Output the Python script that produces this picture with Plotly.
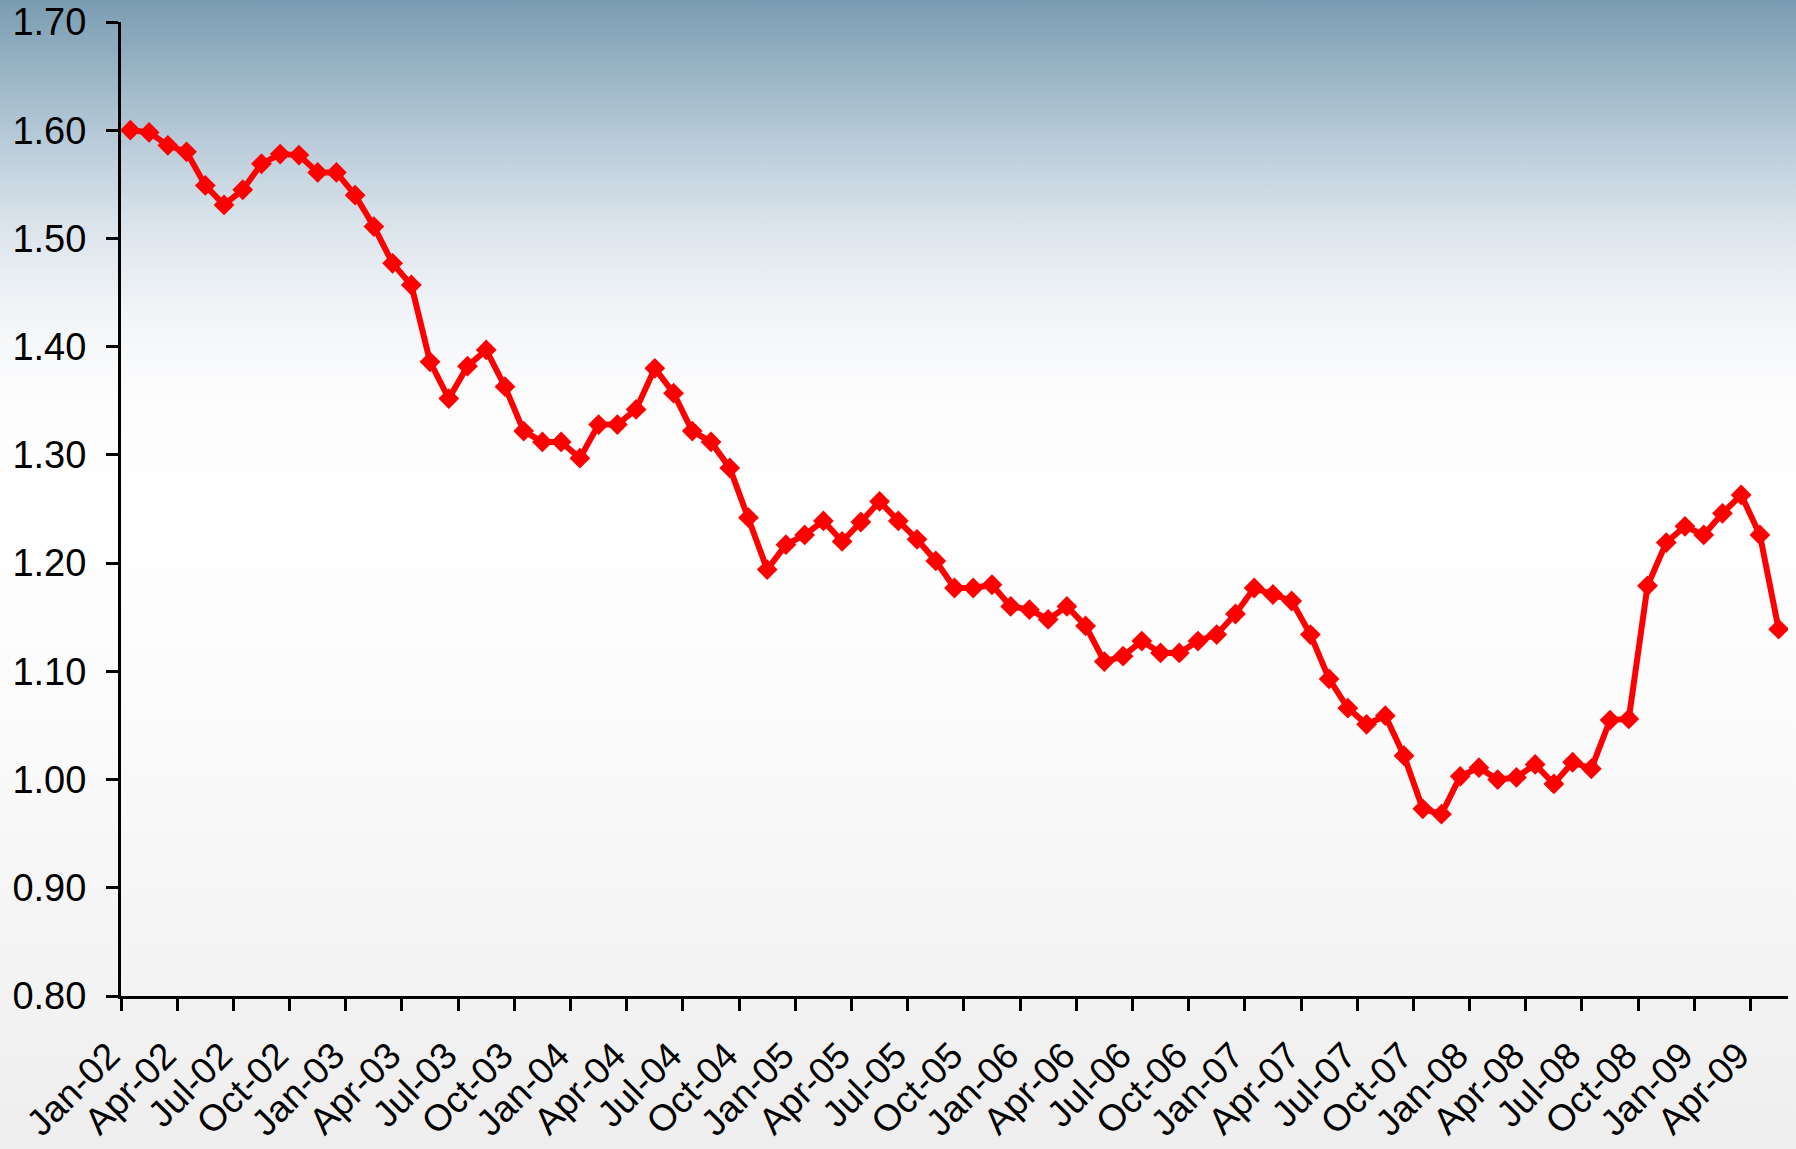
import base64
import plotly.graph_objects as go

# ---- data -------------------------------------------------------------
months = [f"{m}-{y:02d}" for y in range(2, 10) for m in
          ["Jan", "Feb", "Mar", "Apr", "May", "Jun", "Jul", "Aug", "Sep", "Oct", "Nov", "Dec"]][:89]

values = [
    1.600, 1.598, 1.586, 1.580, 1.549, 1.531, 1.545, 1.569, 1.578, 1.577, 1.561, 1.561,  # 2002
    1.540, 1.511, 1.477, 1.457, 1.386, 1.352, 1.382, 1.397, 1.363, 1.322, 1.312, 1.312,  # 2003
    1.297, 1.328, 1.328, 1.342, 1.380, 1.357, 1.322, 1.312, 1.288, 1.242, 1.194, 1.217,  # 2004
    1.226, 1.239, 1.220, 1.238, 1.257, 1.239, 1.222, 1.202, 1.177, 1.177, 1.180, 1.160,  # 2005
    1.157, 1.148, 1.160, 1.142, 1.109, 1.114, 1.128, 1.117, 1.117, 1.128, 1.134, 1.153,  # 2006
    1.177, 1.171, 1.165, 1.134, 1.093, 1.066, 1.051, 1.059, 1.022, 0.973, 0.968, 1.003,  # 2007
    1.011, 1.000, 1.002, 1.014, 0.996, 1.016, 1.010, 1.055, 1.056, 1.179, 1.219, 1.234,  # 2008
    1.226, 1.246, 1.263, 1.226, 1.139,                                                    # 2009
]

tick_labels = [
    "Jan-02", "Apr-02", "Jul-02", "Oct-02",
    "Jan-03", "Apr-03", "Jul-03", "Oct-03",
    "Jan-04", "Apr-04", "Jul-04", "Oct-04",
    "Jan-05", "Apr-05", "Jul-05", "Oct-05",
    "Jan-06", "Apr-06", "Jul-06", "Oct-06",
    "Jan-07", "Apr-07", "Jul-07", "Oct-07",
    "Jan-08", "Apr-08", "Jul-08", "Oct-08",
    "Jan-09", "Apr-09",
]

y_min, y_max, y_step = 0.80, 1.70, 0.10

# ---- layout geometry --------------------------------------------------
W, H = 1796, 1149
ML, MR, MT, MB = 121, 8, 22, 153
PW, PH = W - ML - MR, H - MT - MB

idx = list(range(len(values)))
tick_pos = [3 * k - 0.5 for k in range(len(tick_labels))]

# background gradient as svg
svg = f"""<svg xmlns='http://www.w3.org/2000/svg' width='{W}' height='{H}' preserveAspectRatio='none'>
<defs><linearGradient id='g' x1='0' y1='0' x2='0' y2='1'>
<stop offset='0' stop-color='#7a9cb2'/>
<stop offset='0.06' stop-color='#98b3c4'/>
<stop offset='0.13' stop-color='#bccedb'/>
<stop offset='0.20' stop-color='#dce5ec'/>
<stop offset='0.27' stop-color='#f1f4f7'/>
<stop offset='0.34' stop-color='#fcfcfd'/>
<stop offset='0.45' stop-color='#ffffff'/>
<stop offset='0.62' stop-color='#fbfbfb'/>
<stop offset='0.80' stop-color='#f5f5f5'/>
<stop offset='1' stop-color='#eeeeee'/>
</linearGradient></defs>
<rect width='{W}' height='{H}' fill='url(#g)'/></svg>"""
src = "data:image/svg+xml;base64," + base64.b64encode(svg.encode()).decode()

fig = go.Figure()
fig.add_trace(go.Scatter(
    x=idx, y=values, mode="lines+markers",
    line=dict(color="#ff0000", width=6),
    marker=dict(symbol="diamond", size=16, color="#ff0000"),
    hovertext=months, showlegend=False,
))

font_y = dict(family="Liberation Sans, Arial, sans-serif", size=38, color="#000000")
font_x = dict(family="Liberation Sans, Arial, sans-serif", size=37, color="#000000")

fig.update_layout(
    width=W, height=H,
    margin=dict(l=ML, r=MR, t=MT, b=MB, pad=0, autoexpand=False),
    paper_bgcolor="rgba(0,0,0,0)",
    plot_bgcolor="rgba(0,0,0,0)",
    font=font_y,
    images=[dict(
        source=src, xref="paper", yref="paper",
        x=-ML / PW, y=1 + MT / PH, sizex=W / PW, sizey=H / PH,
        xanchor="left", yanchor="top", sizing="stretch", layer="below",
    )],
    xaxis=dict(
        range=[-0.5, len(values) - 0.5],
        tickmode="array", tickvals=tick_pos, ticktext=tick_labels,
        tickangle=-45, ticks="outside", ticklen=12, tickwidth=3, tickcolor="#000",
        showline=True, linewidth=3, linecolor="#000",
        showgrid=False, zeroline=False, tickfont=font_x,
        ticklabelstandoff=8, ticklabelshift=-12, automargin=False,
    ),
    yaxis=dict(
        range=[y_min, y_max], tick0=y_min, dtick=y_step, tickformat=".2f",
        ticks="outside", ticklen=12, tickwidth=3, tickcolor="#000",
        showline=True, linewidth=3, linecolor="#000",
        showgrid=False, zeroline=False, tickfont=font_y,
        ticklabelstandoff=12, automargin=False,
    ),
)

fig.write_html("out.html", config={"displayModeBar": False},
               post_script="document.body.style.margin='0';document.body.style.overflow='hidden';")
